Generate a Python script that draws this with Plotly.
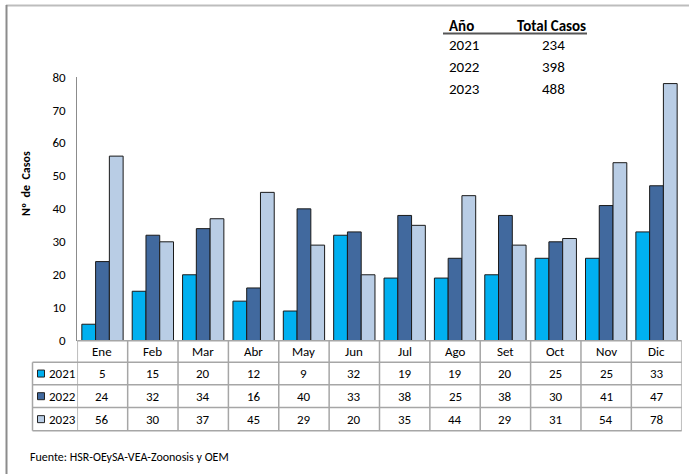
import plotly.graph_objects as go

W, H = 689, 474

meses = ["Ene", "Feb", "Mar", "Abr", "May", "Jun", "Jul", "Ago", "Set", "Oct", "Nov", "Dic"]
anios = ["2021", "2022", "2023"]
casos_2021 = [5, 15, 20, 12, 9, 32, 19, 19, 20, 25, 25, 33]
casos_2022 = [24, 32, 34, 16, 40, 33, 38, 25, 38, 30, 41, 47]
casos_2023 = [56, 30, 37, 45, 29, 20, 35, 44, 29, 31, 54, 78]
totales = [234, 398, 488]
colores = ["#00B0F0", "#41699E", "#B9CDE5"]

FONT = "Carlito, Lato, sans-serif"
GRID = "#a6a6a6"


def px(x):
    return x / W


def py(y):
    return 1 - y / H


def texto(x, y, t, size=13, xref="paper", xanchor="center", angle=0):
    return dict(x=x, xref=xref, y=y, yref="paper", text=t, showarrow=False,
                xanchor=xanchor, yanchor="middle", textangle=angle,
                font=dict(size=size, color="#000"))


series = [casos_2021, casos_2022, casos_2023]

fig = go.Figure()
for anio, vals, col in zip(anios, series, colores):
    fig.add_trace(go.Bar(
        x=meses, y=vals, name=anio,
        marker=dict(color=col, line=dict(color="#1a1a1a", width=1)),
        showlegend=False,
    ))

# table geometry (pixels)
tab_left, plot_left, plot_right = 32.5, 77.3, 681.7
rows_px = [340.7, 362.3, 384.8, 407.6, 430.7]

shapes = []
annotations = []

# horizontal table lines
shapes.append(dict(type="line", xref="paper", yref="paper",
                   x0=px(plot_left), x1=px(plot_right), y0=py(rows_px[0]), y1=py(rows_px[0]),
                   line=dict(color=GRID, width=1.5)))
for yy in rows_px[1:]:
    shapes.append(dict(type="line", xref="paper", yref="paper",
                       x0=px(tab_left), x1=px(plot_right), y0=py(yy), y1=py(yy),
                       line=dict(color=GRID, width=1.5)))
# vertical lines between months
for i in range(len(meses) + 1):
    shapes.append(dict(type="line", xref="x", yref="paper",
                       x0=i - 0.5, x1=i - 0.5, y0=py(rows_px[0]), y1=py(rows_px[-1]),
                       line=dict(color=GRID, width=1.5)))
shapes.append(dict(type="line", xref="paper", yref="paper",
                   x0=px(tab_left), x1=px(tab_left), y0=py(rows_px[1]), y1=py(rows_px[-1]),
                   line=dict(color=GRID, width=1.5)))

# month header
yc = py((rows_px[0] + rows_px[1]) / 2)
for m in meses:
    annotations.append(texto(m, yc, m, xref="x"))

# data rows
for r, (anio, vals, col) in enumerate(zip(anios, series, colores)):
    ymid = (rows_px[r + 1] + rows_px[r + 2]) / 2
    for m, v in zip(meses, vals):
        annotations.append(texto(m, py(ymid), str(v), xref="x"))
    annotations.append(texto(px(47), py(ymid), anio, xanchor="left"))
    shapes.append(dict(type="rect", xref="paper", yref="paper",
                       x0=px(37.5), x1=px(44.5), y0=py(ymid + 3.5), y1=py(ymid - 3.5),
                       fillcolor=col, line=dict(color="#222", width=1)))

# y title
annotations.append(texto(px(26), py(184), "<b>Nº  de  Casos</b>", size=12, angle=-90))

# totals table
annotations.append(texto(px(447), py(26), "<b>Año</b>", size=15, xanchor="left"))
annotations.append(texto(px(551), py(26), "<b>Total Casos</b>", size=15))
shapes.append(dict(type="line", xref="paper", yref="paper",
                   x0=px(443), x1=px(587), y0=py(33.5), y1=py(33.5),
                   line=dict(color="#555", width=2)))
for anio, tot, yy in zip(anios, totales, [45, 67, 89]):
    annotations.append(texto(px(447), py(yy), anio, size=15, xanchor="left"))
    annotations.append(texto(px(553), py(yy), str(tot), size=15))

# source
annotations.append(texto(px(28), py(457), "Fuente: HSR-OEySA-VEA-Zoonosis y OEM",
                         size=12, xanchor="left"))

# outer frame
shapes.append(dict(type="line", xref="paper", yref="paper", x0=px(6), x1=1, y0=py(5.5), y1=py(5.5),
                   line=dict(color="#bdbdbd", width=2)))
shapes.append(dict(type="line", xref="paper", yref="paper", x0=px(6.5), x1=px(6.5), y0=py(5), y1=0,
                   line=dict(color="#8c8c8c", width=2)))

fig.update_layout(
    width=W, height=H,
    margin=dict(l=0, r=0, t=0, b=0, pad=0, autoexpand=False),
    paper_bgcolor="white", plot_bgcolor="white",
    font=dict(family=FONT, size=13, color="#000"),
    barmode="group", bargap=0.18, bargroupgap=0,
    xaxis=dict(domain=[px(plot_left), px(plot_right)], range=[-0.5, 11.5], automargin=False,
               showticklabels=False, showline=False, showgrid=False, zeroline=False, ticks=""),
    yaxis=dict(domain=[py(rows_px[0]), py(77)], range=[0, 80], dtick=10, automargin=False,
               showline=True, linecolor="#8c8c8c", linewidth=1, showgrid=False,
               zeroline=False, ticks="", ticklabelstandoff=8, tickfont=dict(size=13)),
    shapes=shapes, annotations=annotations,
)

fig.write_html("out.html", config={"displayModeBar": False},
               post_script="document.body.style.margin = '0';")
